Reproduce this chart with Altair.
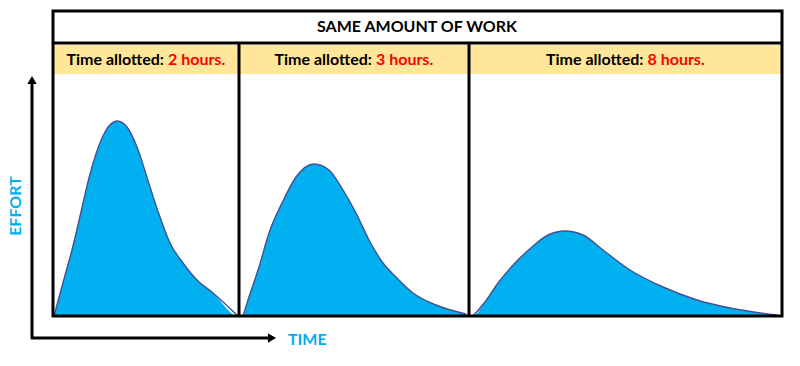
import altair as alt
import pandas as pd

# ---- data -------------------------------------------------------------
panel_edges = [0, 186, 416, 729]          # time axis: panel boundaries
hours = [2, 3, 8]                          # time allotted per panel
title_text = "SAME AMOUNT OF WORK"

p1_time = [1, 11, 20, 28, 36, 44, 52, 64, 74, 84, 97, 107, 117, 130, 144, 160, 185]
p1_effort = [0, 37, 70, 104, 138, 165, 184, 195, 189, 169, 129, 99, 73, 53, 36, 23, 0]

p2_time = [190, 195, 206, 216, 230, 243, 261, 276, 290, 303, 316, 330, 343, 360, 383, 413]
p2_effort = [0, 16, 49, 83, 115, 139, 152, 146, 126, 103, 76, 53, 39, 23, 11, 2]

p3_time = [420, 432, 445, 462, 479, 495, 512, 530, 550, 577, 610, 644, 677, 724]
p3_effort = [0, 14, 33, 53, 69, 81, 85, 81, 66, 46, 29, 16, 8, 1]

# ---- tables -----------------------------------------------------------
rows = []
for i, (ts, es) in enumerate([(p1_time, p1_effort), (p2_time, p2_effort), (p3_time, p3_effort)]):
    for t, e in zip(ts, es):
        rows.append({"panel": i, "t": t, "effort": e})
curves = pd.DataFrame(rows)

headers = pd.DataFrame({
    "start": panel_edges[:-1],
    "end": panel_edges[1:],
    "center": [(a + b) / 2 for a, b in zip(panel_edges[:-1], panel_edges[1:])],
    "black": ["Time allotted:"] * len(hours),
    "red": [f"{h} hours." for h in hours],
})
dividers = pd.DataFrame({"edge": panel_edges[1:-1]})

W, H = 729, 305
FONT = "Lato"
BLUE = "#00B0F0"

xs = alt.Scale(domain=[panel_edges[0], panel_edges[-1]], nice=False, zero=False)
ys = alt.Scale(domain=[0, H], nice=False)
one = alt.Data(values=[{}])

area = alt.Chart(curves).mark_area(interpolate="monotone", color=BLUE, opacity=1).encode(
    x=alt.X("t:Q", scale=xs, axis=None),
    y=alt.Y("effort:Q", scale=ys, axis=None),
    detail="panel:N",
)
line = alt.Chart(curves).mark_line(interpolate="monotone", color="#44508F", strokeWidth=1.4).encode(
    x=alt.X("t:Q", scale=xs, axis=None),
    y=alt.Y("effort:Q", scale=ys, axis=None),
    detail="panel:N",
)

band = alt.Chart(headers).mark_rect(color="#FFE699").encode(
    x=alt.X("start:Q", scale=xs, axis=None),
    x2="end:Q",
    y=alt.value(34),
    y2=alt.value(63),
)

divs = alt.Chart(dividers).mark_rule(color="black", strokeWidth=3).encode(
    x=alt.X("edge:Q", scale=xs, axis=None),
    y=alt.value(32),
    y2=alt.value(H),
)

title_line = alt.Chart(one).mark_rule(color="black", strokeWidth=3).encode(
    x=alt.value(0), x2=alt.value(W), y=alt.value(32)
)

box = alt.Chart(one).mark_rect(fillOpacity=0, stroke="black", strokeWidth=3).encode(
    x=alt.value(0), x2=alt.value(W), y=alt.value(0), y2=alt.value(H)
)

title = alt.Chart(one).mark_text(
    text=title_text, font=FONT, fontWeight="bold", fontSize=16, color="black", baseline="middle"
).encode(x=alt.value(364), y=alt.value(16))

hdr_black = alt.Chart(headers).mark_text(
    align="right", baseline="middle", dx=18, font=FONT, fontWeight="bold", fontSize=16, color="black"
).encode(x=alt.X("center:Q", scale=xs, axis=None), y=alt.value(49), text="black:N")

hdr_red = alt.Chart(headers).mark_text(
    align="left", baseline="middle", dx=22, font=FONT, fontWeight="bold", fontSize=16, color="#FF0000"
).encode(x=alt.X("center:Q", scale=xs, axis=None), y=alt.value(49), text="red:N")

# axis arrows
v_arrow = alt.Chart(one).mark_rule(color="black", strokeWidth=3).encode(
    x=alt.value(-21), y=alt.value(328), y2=alt.value(70)
)
h_arrow = alt.Chart(one).mark_rule(color="black", strokeWidth=3).encode(
    x=alt.value(-22), x2=alt.value(216), y=alt.value(327)
)
v_head = alt.Chart(one).mark_point(shape="triangle-up", filled=True, color="black", size=90, opacity=1).encode(
    x=alt.value(-21), y=alt.value(69)
)
h_head = alt.Chart(one).mark_point(shape="triangle-right", filled=True, color="black", size=90, opacity=1).encode(
    x=alt.value(219), y=alt.value(327)
)
time_lbl = alt.Chart(one).mark_text(
    text="TIME", font=FONT, fontWeight="bold", fontSize=16, color=BLUE, align="left", baseline="middle"
).encode(x=alt.value(235), y=alt.value(329))
effort_lbl = alt.Chart(one).mark_text(
    text="EFFORT", font=FONT, fontWeight="bold", fontSize=16, color=BLUE, angle=270, baseline="middle"
).encode(x=alt.value(-37), y=alt.value(195))

chart = alt.layer(
    area, line, band, divs, title_line, box, title, hdr_black, hdr_red,
    v_arrow, h_arrow, v_head, h_head, time_lbl, effort_lbl,
).properties(
    width=W, height=H,
    autosize=alt.AutoSizeParams(type="none"),
    padding={"left": 53, "top": 11, "right": 18, "bottom": 50},
).configure_view(strokeWidth=0)

chart.save("out.html", embed_options={"renderer": "svg", "actions": False})
